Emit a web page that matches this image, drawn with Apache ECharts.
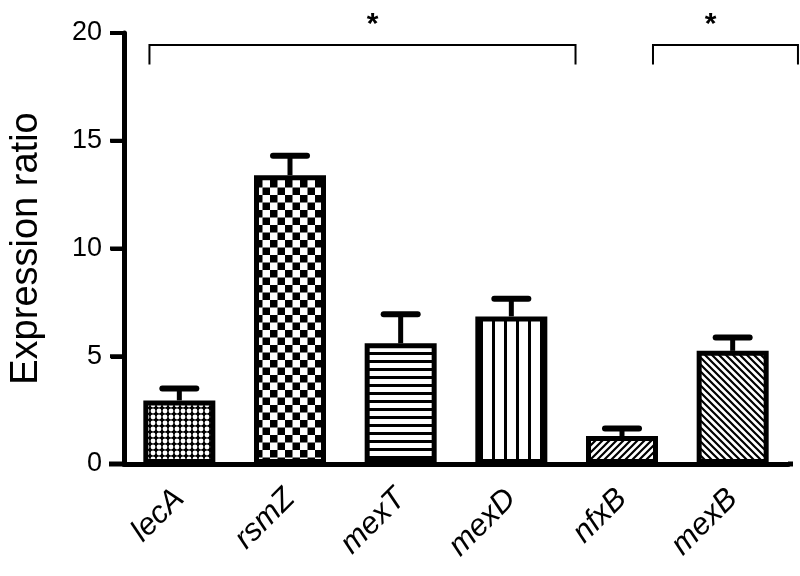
<!DOCTYPE html>
<html>
<head>
<meta charset="utf-8">
<script src="https://cdn.jsdelivr.net/npm/echarts@6/dist/echarts.min.js"></script>
<style>html,body{margin:0;padding:0;background:#fff;}#c{width:800px;height:576px;}</style>
</head>
<body>
<div id="c"></div>
<script>
// ---- data ----
var categories = ['lecA', 'rsmZ', 'mexT', 'mexD', 'nfxB', 'mexB'];
var values = [2.95, 13.4, 5.6, 6.85, 1.3, 5.25];
var errors = [0.55, 0.9, 1.35, 0.82, 0.35, 0.62];
var yTicks = [0, 5, 10, 15, 20];
var patterns = ['dots', 'checker', 'hlines', 'vlines', 'diagUp', 'diagDown'];
// significance brackets: [from, to (in category units), y level, label]
var brackets = [[-0.27, 3.58, 19.44, '*'], [4.28, 5.59, 19.44, '*']];
var bracketDrop = 0.9;

function makePattern(type) {
  var c = document.createElement('canvas');
  var ctx = c.getContext('2d');
  var s;
  if (type === 'dots') {
    s = 6; c.width = s; c.height = s;
    ctx.fillStyle = '#000'; ctx.fillRect(0, 0, s, s);
    ctx.fillStyle = '#fff'; ctx.beginPath(); ctx.arc(3, 3, 2.4, 0, Math.PI * 2); ctx.fill();
  } else if (type === 'checker') {
    s = 15; c.width = s; c.height = s;
    ctx.fillStyle = '#fff'; ctx.fillRect(0, 0, s, s);
    ctx.fillStyle = '#000'; ctx.fillRect(0, 0, 7.5, 7.5); ctx.fillRect(7.5, 7.5, 7.5, 7.5);
  } else if (type === 'hlines') {
    c.width = 8; c.height = 8;
    ctx.fillStyle = '#fff'; ctx.fillRect(0, 0, 8, 8);
    ctx.fillStyle = '#000'; ctx.fillRect(0, 0, 8, 3);
  } else if (type === 'vlines') {
    c.width = 12; c.height = 12;
    ctx.fillStyle = '#fff'; ctx.fillRect(0, 0, 12, 12);
    ctx.fillStyle = '#000'; ctx.fillRect(0, 0, 3, 12);
  } else {
    s = 7; c.width = s; c.height = s;
    ctx.fillStyle = '#fff'; ctx.fillRect(0, 0, s, s);
    ctx.strokeStyle = '#000'; ctx.lineWidth = 2.2;
    ctx.beginPath();
    if (type === 'diagUp') {
      ctx.moveTo(-1, s + 1); ctx.lineTo(s + 1, -1);
      ctx.moveTo(-1 - s, s + 1); ctx.lineTo(1, -1);
      ctx.moveTo(s - 1, s + 1); ctx.lineTo(2 * s + 1, -1);
    } else {
      ctx.moveTo(-1, -1); ctx.lineTo(s + 1, s + 1);
      ctx.moveTo(-1 - s, -1); ctx.lineTo(1, s + 1);
      ctx.moveTo(s - 1, -1); ctx.lineTo(2 * s + 1, s + 1);
    }
    ctx.stroke();
  }
  return { image: c, repeat: 'repeat' };
}

var FONT = '"Liberation Sans", Arial, sans-serif';
var barData = values.map(function (v, i) {
  return { value: v, itemStyle: { color: makePattern(patterns[i]) } };
});
var errData = values.map(function (v, i) { return [i, v, v + errors[i]]; });

var chart = echarts.init(document.getElementById('c'), null, { renderer: 'canvas' });
chart.setOption({
  animation: false,
  backgroundColor: '#fff',
  grid: { left: 120, right: 12, top: 33, bottom: 112, containLabel: false },
  xAxis: {
    type: 'category', data: categories,
    axisLine: { lineStyle: { color: '#000', width: 5 } },
    axisTick: { alignWithLabel: true, length: 13, lineStyle: { color: '#000', width: 4 } },
    axisLabel: { rotate: 45, fontSize: 31, fontStyle: 'italic', fontFamily: FONT, color: '#000', margin: 30 }
  },
  yAxis: {
    type: 'value', min: 0, max: 20, interval: 5,
    name: 'Expression ratio', nameLocation: 'middle', nameGap: 78,
    nameTextStyle: { fontSize: 38, fontFamily: FONT, color: '#000' },
    axisLine: { show: true, lineStyle: { color: '#000', width: 5 } },
    axisTick: { show: true, inside: false, length: 13, lineStyle: { color: '#000', width: 4 } },
    axisLabel: { fontSize: 27, fontFamily: FONT, color: '#000', margin: 22 },
    splitLine: { show: false }
  },
  series: [{
    type: 'bar', data: barData, barWidth: 72,
    itemStyle: { borderColor: '#000', borderWidth: 5 }
  }, {
    type: 'custom', z: 1,
    data: errData,
    renderItem: function (params, api) {
      var x = api.value(0);
      var p0 = api.coord([x, api.value(1)]);
      var p1 = api.coord([x, api.value(2)]);
      var hw = 17;
      return {
        type: 'group', children: [
          { type: 'line', shape: { x1: p0[0], y1: p0[1], x2: p1[0], y2: p1[1] }, style: { stroke: '#000', lineWidth: 5 } },
          { type: 'line', shape: { x1: p1[0] - hw, y1: p1[1], x2: p1[0] + hw, y2: p1[1] }, style: { stroke: '#000', lineWidth: 6, lineCap: 'round' } }
        ]
      };
    }
  }]
});

// annotations (brackets + stars), y ticks and axis baseline extension, placed through the axes
var c0 = chart.convertToPixel({ seriesIndex: 0 }, [0, 0]);
var c1 = chart.convertToPixel({ seriesIndex: 0 }, [1, 0]);
var band = c1[0] - c0[0];
function catX(u) { return c0[0] + u * band; }
function valY(v) { return chart.convertToPixel({ seriesIndex: 0 }, [0, v])[1]; }
var gfx = [];
brackets.forEach(function (b, i) {
  var x1 = catX(b[0]), x2 = catX(b[1]), y = valY(b[2]), yl = valY(b[2] - bracketDrop);
  gfx.push({ type: 'polyline', z: 10, shape: { points: [[x1, yl], [x1, y], [x2, y], [x2, yl]] }, style: { stroke: '#000', fill: null, lineWidth: 2 } });
  gfx.push({ type: 'text', z: 10, x: (x1 + x2) / 2 + (i === 0 ? 10 : -15), y: y - 20, style: { text: b[3], font: 'bold 30px ' + FONT, fill: '#000', align: 'center', verticalAlign: 'middle' } });
});
var leftEdge = c0[0] - band / 2, rightEdge = c0[0] + (categories.length - 0.5) * band;
yTicks.forEach(function (t) {
  var y = valY(t);
  gfx.push({ type: 'line', z: 10, shape: { x1: leftEdge - 14, y1: y, x2: leftEdge, y2: y }, style: { stroke: '#000', lineWidth: 4 } });
});
gfx.push({ type: 'line', z: 10, shape: { x1: leftEdge - 15, y1: c0[1], x2: leftEdge, y2: c0[1] }, style: { stroke: '#000', lineWidth: 5 } });
gfx.push({ type: 'line', z: 10, shape: { x1: rightEdge, y1: c0[1], x2: rightEdge + 5, y2: c0[1] }, style: { stroke: '#000', lineWidth: 5 } });
chart.setOption({ graphic: gfx });
</script>
</body>
</html>
